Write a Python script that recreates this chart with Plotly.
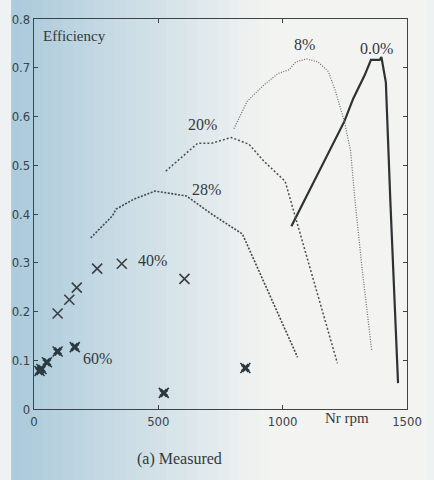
import plotly.graph_objects as go

# ---- data ----
rpm_0 = [1035, 1100, 1150, 1200, 1248, 1284, 1330, 1355, 1390, 1397, 1415, 1433, 1464]
eff_0 = [0.375, 0.44, 0.49, 0.54, 0.59, 0.637, 0.685, 0.716, 0.716, 0.722, 0.67, 0.427, 0.053]

rpm_8 = [804, 857, 925, 981, 1025, 1053, 1096, 1142, 1184, 1213, 1248, 1273, 1291, 1319, 1358]
eff_8 = [0.575, 0.631, 0.665, 0.688, 0.696, 0.712, 0.718, 0.712, 0.692, 0.651, 0.59, 0.53, 0.427, 0.29, 0.12]

rpm_20 = [530, 600, 658, 714, 793, 865, 925, 1010, 1220]
eff_20 = [0.488, 0.52, 0.545, 0.545, 0.557, 0.543, 0.508, 0.467, 0.094]

rpm_28 = [228, 315, 330, 400, 487, 613, 714, 838, 1060]
eff_28 = [0.351, 0.396, 0.41, 0.43, 0.447, 0.437, 0.40, 0.359, 0.106]

rpm_40 = [95, 142, 172, 254, 353, 605]
eff_40 = [0.196, 0.224, 0.249, 0.288, 0.298, 0.267]

rpm_60 = [22, 30, 52, 95, 164, 522, 850]
eff_60 = [0.078, 0.082, 0.096, 0.118, 0.127, 0.033, 0.084]

curve_labels = ["8%", "0.0%", "20%", "28%", "40%", "60%"]
label_x = [1089, 1379, 677, 692, 478, 254]
label_y = [0.747, 0.739, 0.584, 0.451, 0.304, 0.104]

x_ticks = [0, 500, 1000, 1500]
y_ticks = [0, 0.1, 0.2, 0.3, 0.4, 0.5, 0.6, 0.7, 0.8]
y_tick_text = ["0", "0.1", "0.2", "0.3", "0.4", "0.5", "0.6", "0.7", "0.8"]

serif = "Liberation Serif, Times New Roman, serif"
sans = "Liberation Sans Narrow, DejaVu Sans Condensed, Liberation Sans, sans-serif"
ink = "#33393c"
mark = "#2c3a40"

fig = go.Figure()

fig.add_trace(go.Scatter(x=rpm_0, y=eff_0, mode="lines",
                         line=dict(color="#2e3234", width=2.2)))
fig.add_trace(go.Scatter(x=rpm_8, y=eff_8, mode="lines",
                         line=dict(color="#6f7476", width=1.3, dash="1px,1.5px")))
fig.add_trace(go.Scatter(x=rpm_20, y=eff_20, mode="lines",
                         line=dict(color="#4a4f52", width=1.5, dash="2px,2px")))
fig.add_trace(go.Scatter(x=rpm_28, y=eff_28, mode="lines",
                         line=dict(color="#44494c", width=1.6, dash="2px,1.5px")))
fig.add_trace(go.Scatter(x=rpm_40, y=eff_40, mode="markers",
                         marker=dict(symbol="x-thin-open", size=10, color="#3a3f42",
                                     line=dict(color="#3a3f42", width=1.6))))
fig.add_trace(go.Scatter(x=rpm_60, y=eff_60, mode="markers",
                         marker=dict(symbol="x", size=8, color=mark,
                                     line=dict(width=0))))
fig.add_trace(go.Scatter(x=rpm_60, y=eff_60, mode="markers",
                         marker=dict(symbol="x-thin-open", size=10, color=mark,
                                     line=dict(color=mark, width=1.6))))

# background paper gradient (blue tint on the left fading to white)
n = 40
left_px, plot_w = 24, 391
for i in range(n):
    f = i / (n - 1)
    t = min(1.0, f * 1.6)
    r = int(172 + (243 - 172) * t)
    g = int(203 + (244 - 203) * t)
    b = int(220 + (242 - 220) * t)
    x0 = (i * 434 / n - left_px) / plot_w
    x1 = ((i + 1) * 434 / n - left_px) / plot_w
    fig.add_shape(type="rect", xref="paper", yref="paper",
                  x0=x0, x1=x1 + 0.003, y0=-1, y1=2,
                  fillcolor=f"rgb({r},{g},{b})", line=dict(width=0), layer="below")

annotations = []
for txt, lx, ly in zip(curve_labels, label_x, label_y):
    annotations.append(dict(x=lx, y=ly, text=txt, showarrow=False,
                            font=dict(family=serif, size=16, color=ink)))
annotations.append(dict(x=30, y=0.765, text="Efficiency", showarrow=False, xanchor="left",
                        font=dict(family=serif, size=15, color=ink)))
annotations.append(dict(x=1259, y=-0.023, xref="x", yref="paper", text="Nr rpm",
                        showarrow=False, yanchor="middle",
                        font=dict(family=serif, size=15, color=ink)))
annotations.append(dict(x=0.391, y=-0.156, xref="paper", yref="paper", text="(a) Measured",
                        showarrow=False, font=dict(family=serif, size=16, color=ink)))

fig.update_layout(
    width=434, height=480,
    margin=dict(l=24, r=19, t=17, b=71),
    paper_bgcolor="#eef2f2",
    plot_bgcolor="rgba(0,0,0,0)",
    showlegend=False,
    annotations=annotations,
    xaxis=dict(range=[0, 1500], tickvals=x_ticks, ticktext=[str(v) for v in x_ticks],
               showgrid=False, zeroline=False, showline=True, linecolor="#3d4447",
               linewidth=1.3, mirror="ticks", ticks="inside", ticklen=4,
               tickcolor="#3d4447", tickfont=dict(family=sans, size=13, color="#3a4448")),
    yaxis=dict(range=[0, 0.8], tickvals=y_ticks, ticktext=y_tick_text,
               showgrid=False, zeroline=False, showline=True, linecolor="#3d4447",
               linewidth=1.3, mirror="ticks", ticks="inside", ticklen=4,
               tickcolor="#3d4447", tickfont=dict(family=sans, size=13, color="#3a4448")),
)

fig.write_html("out.html")
